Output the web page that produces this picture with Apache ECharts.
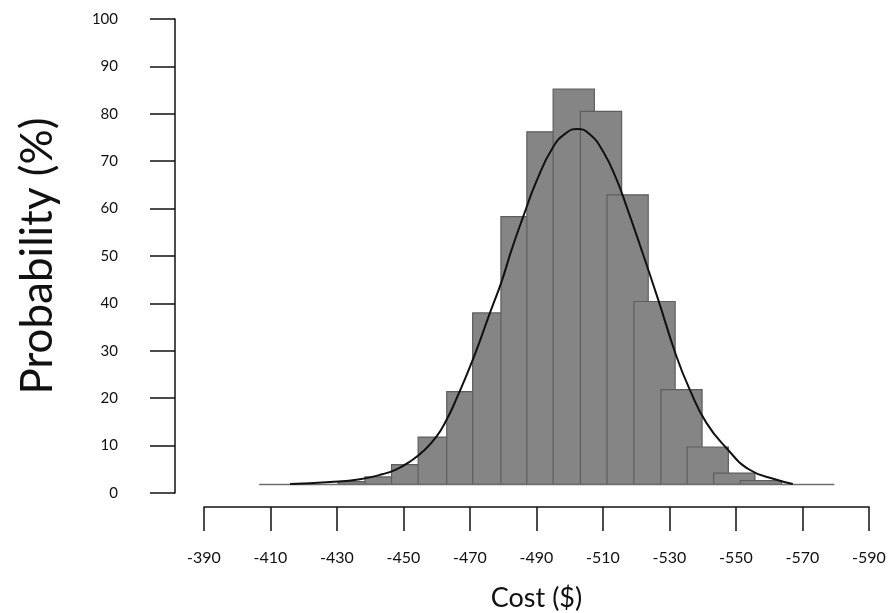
<!DOCTYPE html>
<html>
<head>
<meta charset="utf-8">
<script src="https://cdn.jsdelivr.net/npm/echarts@6/dist/echarts.min.js"></script>
<style>
  html, body { margin: 0; padding: 0; background: #fff; }
  #main { width: 895px; height: 613px; }
</style>
</head>
<body>
<div id="main"></div>
<script>
// histogram bars: left edge of each bin (cost, $) and probability (%)
var binStart = [-430.3, -438.4, -446.4, -454.4, -463.0, -470.8, -479.3, -487.1, -495.0,
                -503.2, -511.2, -519.3, -527.4, -535.3, -543.3, -551.3];
var prob = [2.4, 3.4, 6.0, 11.8, 21.4, 38.0, 58.3, 76.2, 85.2,
            80.5, 62.9, 40.4, 21.8, 9.7, 4.2, 2.6];

// fitted density curve
var curveX = [-415.9, -427.9, -436.9, -443.9, -447.9, -451.9, -455.9, -459.9, -463.0, -466.0,
              -471.0, -476.0, -479.5, -482.5, -486.0, -490.0, -495.0, -499.0, -502.2, -506.0,
              -510.0, -514.1, -517.1, -521.6, -526.6, -532.1, -536.1, -541.1, -547.1, -554.1,
              -562.2, -567.1];
var curveY = [1.9, 2.3, 2.9, 4.0, 5.0, 6.6, 8.8, 11.9, 15.5, 20.0,
              28.4, 38.0, 44.6, 51.3, 58.3, 65.8, 73.0, 76.0, 76.8, 75.7,
              72.1, 66.1, 60.4, 51.3, 40.8, 28.8, 21.8, 14.8, 9.5, 4.9,
              2.8, 1.9];

// baseline of the histogram
var baseX = [-406.6, -579.6];
var baseY = 1.8;

var binWidth = 12.4;

var myChart = echarts.init(document.getElementById('main'));
var font = 'Lato';

var barData = binStart.map(function(s, i){ return [s, s - binWidth, prob[i]]; });
var curveData = curveX.map(function(x, i){ return [x, curveY[i]]; });
var baseData = baseX.map(function(x){ return [x, baseY]; });

var option = {
  animation: false,
  grid: { left: 204, right: 26, top: 19, bottom: 120, outerBoundsMode: 'none', containLabel: false },
  xAxis: {
    type: 'value',
    min: -590, max: -390, interval: 20,
    inverse: true,
    offset: 14,
    name: 'Cost ($)',
    nameLocation: 'middle',
    nameGap: 78,
    nameTextStyle: { fontFamily: font, fontSize: 27, color: '#111' },
    axisLine: { show: true, onZero: false, lineStyle: { color: '#111', width: 1.5 } },
    axisTick: { show: true, length: 24, lineStyle: { color: '#111', width: 1.5 } },
    axisLabel: { margin: 43, fontFamily: font, fontSize: 16, color: '#111' },
    splitLine: { show: false }
  },
  yAxis: {
    type: 'value',
    min: 0, max: 100, interval: 10,
    offset: 29,
    name: 'Probability (%)',
    nameLocation: 'middle',
    nameGap: 115,
    nameTextStyle: { fontFamily: font, fontSize: 44, color: '#111' },
    axisLine: { show: true, onZero: false, lineStyle: { color: '#111', width: 1.5 } },
    axisTick: { show: true, length: 25, lineStyle: { color: '#111', width: 1.5 } },
    axisLabel: { margin: 57, fontFamily: font, fontSize: 15, color: '#111' },
    splitLine: { show: false }
  },
  series: [
    {
      type: 'custom',
      data: barData,
      renderItem: function(params, api){
        var p0 = api.coord([api.value(0), baseY]);
        var p1 = api.coord([api.value(1), api.value(2)]);
        return {
          type: 'rect',
          shape: {
            x: Math.min(p0[0], p1[0]),
            y: Math.min(p0[1], p1[1]),
            width: Math.abs(p1[0] - p0[0]),
            height: Math.abs(p1[1] - p0[1])
          },
          style: { fill: '#858585', stroke: '#5e5e5e', lineWidth: 1.2 }
        };
      },
      z: 2
    },
    {
      type: 'line',
      data: baseData,
      symbol: 'none',
      lineStyle: { color: '#6e6e6e', width: 1.5 },
      z: 3
    },
    {
      type: 'line',
      data: curveData,
      smooth: true,
      symbol: 'none',
      lineStyle: { color: '#111', width: 2 },
      z: 4
    }
  ]
};
myChart.setOption(option);
</script>
</body>
</html>
